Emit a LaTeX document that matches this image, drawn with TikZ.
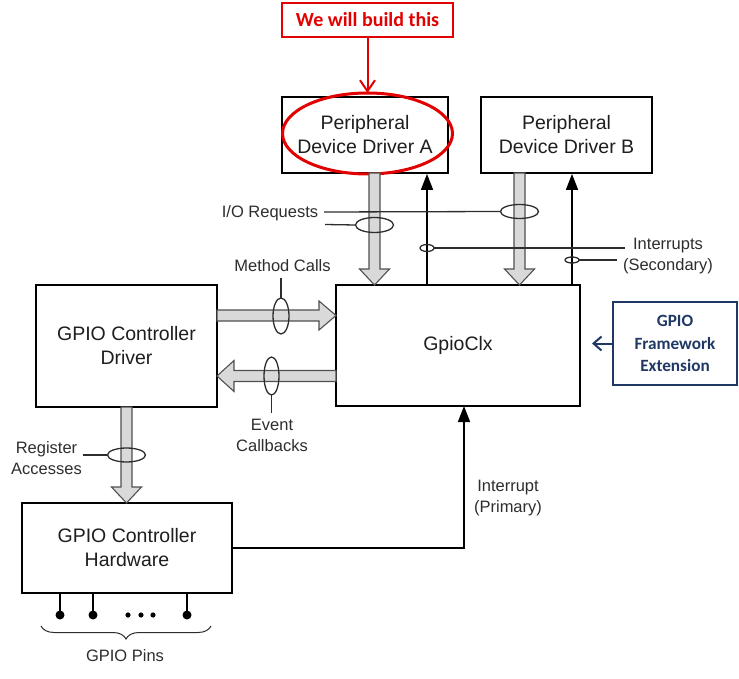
\documentclass[tikz,border=0pt]{standalone}
\usepackage{fontspec}
\setmainfont{Liberation Sans}
\newfontfamily\calibri{Carlito}
\usetikzlibrary{arrows.meta,calc,decorations.pathreplacing,shapes.geometric}

\definecolor{myred}{RGB}{226,0,0}
\definecolor{mynavy}{RGB}{31,56,100}
\definecolor{fatfill}{RGB}{217,217,217}
\definecolor{fatline}{RGB}{80,80,80}
\definecolor{txt}{RGB}{30,30,30}
\definecolor{lbl}{RGB}{45,45,45}

\newcommand\fatdown[3]{% x, start y, tip y
  \draw[fat] (#1-5.5,#2) -- (#1-5.5,#3-16) -- (#1-15,#3-16) -- (#1,#3) -- (#1+15,#3-16) -- (#1+5.5,#3-16) -- (#1+5.5,#2) -- cycle;}
\newcommand\fatright[3]{% y, start x, tip x
  \draw[fat] (#2,#1-5.5) -- (#3-17,#1-5.5) -- (#3-17,#1-14.5) -- (#3,#1) -- (#3-17,#1+14.5) -- (#3-17,#1+5.5) -- (#2,#1+5.5) -- cycle;}
\newcommand\fatleft[3]{% y, start x, tip x
  \draw[fat] (#2,#1-5.5) -- (#3+17,#1-5.5) -- (#3+17,#1-15.5) -- (#3,#1) -- (#3+17,#1+15.5) -- (#3+17,#1+5.5) -- (#2,#1+5.5) -- cycle;}

\begin{document}
\begin{tikzpicture}[x=1pt,y=-1pt,
  box/.style={draw=black,line width=1.8pt,fill=white,align=center,inner sep=0pt,text=txt,font=\fontsize{19.5}{24}\selectfont},
  lbltext/.style={align=center,inner sep=0pt,text=lbl,font=\fontsize{16.5}{21}\selectfont},
  tag/.style={draw=lbl,line width=1.3pt},
  blk/.style={draw=black,line width=1.6pt,-{Triangle[length=16pt,width=12pt]}},
  fat/.style={draw=fatline,line width=1.1pt,fill=fatfill,line join=miter},
]
\useasboundingbox (0,0) rectangle (739,679);

% boxes
\node[draw=myred,line width=1.4pt,minimum width=171pt,minimum height=34pt,inner sep=0pt,text=myred,font=\calibri\bfseries\fontsize{20}{24}\selectfont] (redbox) at (367.5,20) {We will build this};
\node[box,minimum width=166pt,minimum height=76pt] (pdda) at (365,135) {Peripheral\\Device Driver A};
\node[box,minimum width=171pt,minimum height=76pt] (pddb) at (566.5,135) {Peripheral\\Device Driver B};
\node[box,minimum width=244pt,minimum height=121pt] (gpioclx) at (458,345.5) {GpioClx};
\node[box,minimum width=181pt,minimum height=122pt] (drv) at (126.5,346) {GPIO Controller\\Driver};
\node[box,minimum width=210pt,minimum height=90pt] (hw) at (127,548) {GPIO Controller\\Hardware};
\node[draw=mynavy,line width=1.6pt,minimum width=124pt,minimum height=83pt,inner sep=0pt,align=center,text=mynavy,font=\calibri\bfseries\fontsize{17.2}{22.5}\selectfont] (fwe) at (675,343.5) {GPIO\\Framework\\Extension};

% red highlight
\coordinate (redc) at (367.5,133.5);
\coordinate (redtip) at (367.5,93);
\draw[myred,line width=2pt,-{Straight Barb[length=11pt,width=15pt]}] (redbox.south -| redtip) -- (redtip);
\draw[myred,line width=3pt] (redc) ellipse [x radius=85pt, y radius=40.5pt];

% framework extension arrow
\coordinate (fwetip) at (592,343.5);
\draw[mynavy,line width=2pt,-{Straight Barb[length=8pt,width=14pt]}] (fwe.west) -- (fwetip);

% fat arrows
\fatdown{374.5}{173}{285}
\fatdown{519.5}{173}{285}
\fatright{315.5}{217}{336}
\fatleft{376}{336}{217}
\fatdown{126.5}{407}{503}

% black interrupt arrows
\coordinate (ia) at (427,248);
\coordinate (ib) at (572,260);
\draw[blk] (gpioclx.north -| ia) -- (pdda.south -| ia);
\draw[blk] (gpioclx.north -| ib) -- (pddb.south -| ib);
\coordinate (prim) at (464,406);
\draw[blk] (hw.east) -| (prim);

% tag ellipses
\coordinate (ioa) at (374.5,225);
\coordinate (iob) at (519.5,211.5);
\coordinate (mc) at (281,316);
\coordinate (ec) at (271.5,376);
\coordinate (ra) at (126.5,455);
\draw[tag] (ioa) ellipse [x radius=19pt, y radius=7.5pt];
\draw[tag] (iob) ellipse [x radius=19pt, y radius=7pt];
\draw[tag] (ia) ellipse [x radius=7pt, y radius=3.5pt];
\draw[tag] (ib) ellipse [x radius=7pt, y radius=3pt];
\draw[tag] (mc) ellipse [x radius=8pt, y radius=18pt];
\draw[tag] (ec) ellipse [x radius=7.5pt, y radius=19pt];
\draw[tag] (ra) ellipse [x radius=19pt, y radius=7pt];

% labels
\node[lbltext] (liob) at (270,213) {I/O Requests};
\node[lbltext] (lint) at (668,256.5) {Interrupts\\(Secondary)};
\node[lbltext] (lmc) at (282.5,266) {Method Calls};
\node[lbltext] (lec) at (272,435) {Event\\Callbacks};
\node[lbltext] (lra) at (46.5,458) {Register\\Accesses};
\node[lbltext] (lpri) at (508,498.5) {Interrupt\\(Primary)};
\node[lbltext] (lpins) at (125,656) {GPIO Pins};

% tag lines
\coordinate (t1) at (324,212);
\coordinate (t2) at (325,224.5);
\draw[tag] (t1) -- ($(iob)+(-19,0)$);
\draw[tag] (t2) -- ($(ioa)+(-19,0)$);
\coordinate (t3) at (625,248);
\coordinate (t4) at (617,260);
\draw[tag] ($(ia)+(7,0)$) -- (t3);
\draw[tag] ($(ib)+(7,0)$) -- (t4);
\coordinate (t5) at (281,278);
\draw[tag] (t5) -- ($(mc)+(0,-18)$);
\coordinate (t6) at (271.5,413);
\draw[tag] ($(ec)+(0,19)$) -- (t6);
\coordinate (t7) at (83,455);
\draw[tag] ($(ra)+(-19,0)$) -- (t7);

% pins
\foreach \px/\nm in {60/pa,93/pb,187/pc}{
  \coordinate (\nm) at (\px,615);
  \draw[black,line width=1.5pt] (hw.south -| \nm) -- (\nm);
  \fill[black] (\nm) circle [radius=4.5pt];
}
\foreach \dx in {128,141,153}{
  \fill[black] (\dx,615) circle [radius=2.6pt];
}
\coordinate (bl) at (41,626);
\coordinate (br) at (211,626);
\draw[lbl,line width=1pt,decorate,decoration={brace,amplitude=13pt,mirror}] (bl) -- (br);
\end{tikzpicture}
\end{document}
